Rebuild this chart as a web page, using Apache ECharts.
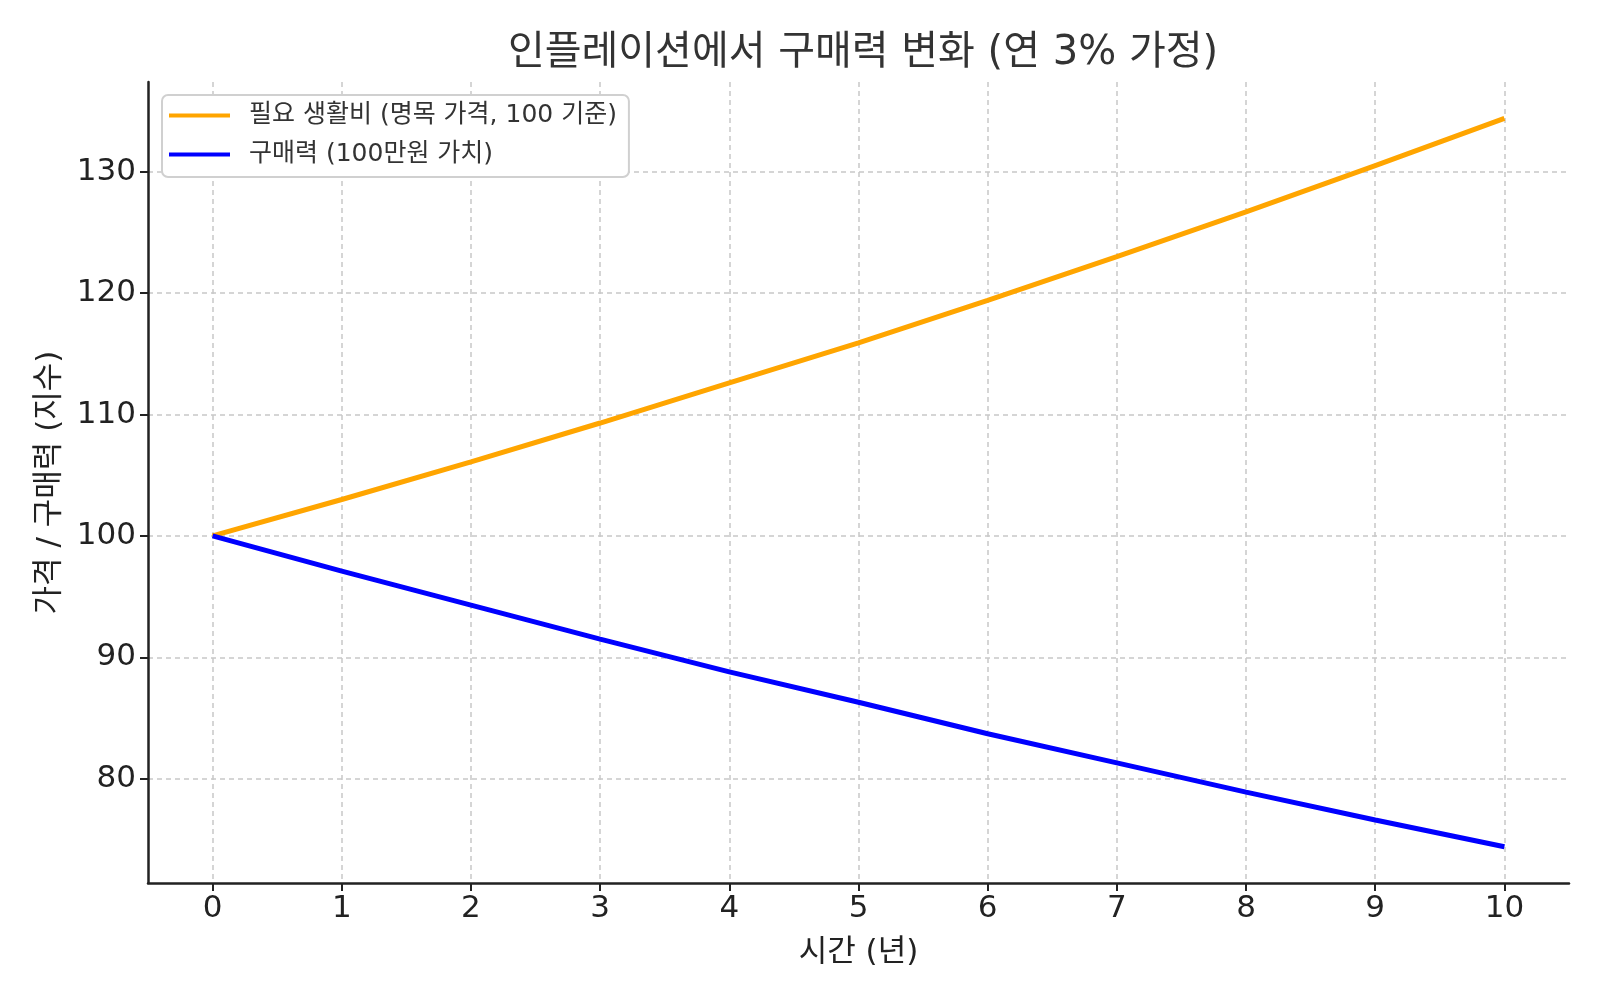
<!doctype html>
<html>
<head>
<meta charset="UTF-8">
<title>인플레이션에서 구매력 변화</title>
<script src="https://cdn.jsdelivr.net/npm/echarts@6/dist/echarts.min.js"></script>
<style>
  html, body { margin: 0; padding: 0; background: #fff; }
  #main { width: 1600px; height: 1000px; }
</style>
</head>
<body>
<div id="main"></div>
<script>
// 연도 (0~10년)
var years = [0, 1, 2, 3, 4, 5, 6, 7, 8, 9, 10];
// 필요 생활비 (명목 가격, 100 기준)
var priceLevel = [100, 103.0, 106.1, 109.3, 112.6, 115.9, 119.4, 123.0, 126.7, 130.5, 134.4];
// 구매력 (100만원 가치)
var buyingPower = [100, 97.1, 94.3, 91.5, 88.8, 86.3, 83.7, 81.3, 78.9, 76.6, 74.4];
// 눈금
var xTicks = [0, 1, 2, 3, 4, 5, 6, 7, 8, 9, 10];
var yTicks = [80, 90, 100, 110, 120, 130];

var seriesNames = ['필요 생활비 (명목 가격, 100 기준)', '구매력 (100만원 가치)'];

var font = "'DejaVu Sans', 'Noto Sans CJK KR', sans-serif";

function pairs(xs, ys) {
  var out = [];
  for (var i = 0; i < xs.length; i++) out.push([xs[i], ys[i]]);
  return out;
}

var chart = echarts.init(document.getElementById('main'));

var option = {
  backgroundColor: '#ffffff',
  animation: false,
  title: {
    text: '인플레이션에서 구매력 변화 (연 3% 가정)',
    left: 858,
    textAlign: 'center',
    top: 29,
    textStyle: { fontFamily: font, fontSize: 40, fontWeight: 'normal', color: '#333' }
  },
  legend: {
    left: 162,
    top: 95,
    orient: 'vertical',
    itemGap: 14,
    itemWidth: 61,
    itemHeight: 4,
    icon: 'rect',
    padding: [8, 12, 10, 7],
    backgroundColor: '#ffffff',
    borderColor: '#d0d0d0',
    borderWidth: 2,
    borderRadius: 6,
    textStyle: { fontFamily: font, fontSize: 25, color: '#333', padding: [0, 0, 0, 14] },
    data: seriesNames
  },
  grid: { left: 148, right: 31, top: 82, bottom: 117, containLabel: false },
  xAxis: {
    type: 'value',
    min: -0.5,
    max: 10.5,
    name: '시간 (년)',
    nameLocation: 'middle',
    nameGap: 54,
    nameTextStyle: { fontFamily: font, fontSize: 31, color: '#222' },
    axisLine: { show: true, onZero: false, lineStyle: { color: '#222', width: 2.5 } },
    axisTick: { show: true, length: 8, lineStyle: { color: '#222', width: 2 }, customValues: xTicks },
    axisLabel: { fontFamily: font, fontSize: 31, color: '#222', margin: 10, customValues: xTicks },
    splitLine: { show: true, lineStyle: { color: '#c8c8c8', width: 1.5, type: [5, 4] } }
  },
  yAxis: {
    type: 'value',
    min: 71.41,
    max: 137.39,
    name: '가격 / 구매력 (지수)',
    nameLocation: 'middle',
    nameGap: 82,
    nameTextStyle: { fontFamily: font, fontSize: 31, color: '#222' },
    axisLine: { show: true, onZero: false, lineStyle: { color: '#222', width: 2.5 } },
    axisTick: { show: true, length: 8, lineStyle: { color: '#222', width: 2 }, customValues: yTicks },
    axisLabel: { fontFamily: font, fontSize: 31, color: '#222', margin: 12, customValues: yTicks },
    splitLine: { show: true, lineStyle: { color: '#c8c8c8', width: 1.5, type: [5, 4] } }
  },
  series: [
    {
      name: seriesNames[0],
      type: 'line',
      data: pairs(years, priceLevel),
      showSymbol: false,
      symbol: 'none',
      color: '#FFA500',
      lineStyle: { color: '#FFA500', width: 5 }
    },
    {
      name: seriesNames[1],
      type: 'line',
      data: pairs(years, buyingPower),
      showSymbol: false,
      symbol: 'none',
      color: '#0000FF',
      lineStyle: { color: '#0000FF', width: 5 }
    }
  ]
};

chart.setOption(option);
</script>
</body>
</html>
